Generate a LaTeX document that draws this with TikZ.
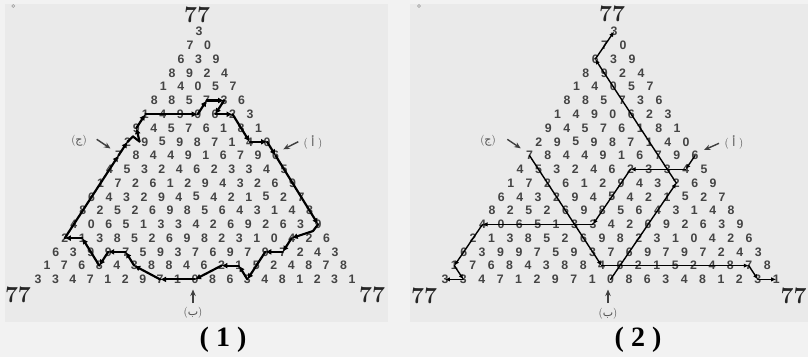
\documentclass[tikz,border=0pt]{standalone}
\usepackage{fontspec}
\newfontfamily\digfont{Liberation Sans}
\newfontfamily\capfont{Liberation Serif}
\newfontfamily\arabicfont[Script=Arabic]{DejaVu Sans}
\TeXXeTstate=1
\usetikzlibrary{arrows.meta}
\definecolor{outerbg}{HTML}{F2F2F2}
\definecolor{panelbg}{HTML}{EAEAEA}
\definecolor{digcol}{HTML}{444444}
\tikzset{
  dig/.style={font=\digfont\bfseries\fontsize{12.3}{12.3}\selectfont, text=digcol, inner sep=0pt, anchor=center},
  corner/.style={font=\bfseries\fontsize{23}{23}\selectfont, text=black!85, inner sep=0pt},
  capt/.style={font=\capfont\bfseries\fontsize{28}{28}\selectfont, inner sep=0pt},
  lbl/.style={font=\fontsize{11}{11}\selectfont, text=black!70, inner sep=0pt},
  lblarrow/.style={-{Stealth[length=6.5pt,width=5.5pt]}, line width=1.4pt, draw=black!75},
  pathA/.style={line width=2.2pt, line cap=round, line join=round, -{Latex[length=6pt,width=6pt]}},
  pathAplain/.style={line width=2.2pt, line cap=round, line join=round},
  pathB/.style={line width=1.4pt, line cap=round, line join=round, -{Latex[length=5pt,width=4.5pt]}},
}
\newcommand\pseg[3][pathA]{\draw[#1] (#2.center) -- (#3.center);}
\begin{document}
\begin{tikzpicture}[x=1pt,y=-1pt]
\useasboundingbox (0,0) rectangle (808,357);
\fill[outerbg] (0,0) rectangle (808,357);
\fill[panelbg] (5,4) rectangle (388,322);
\fill[panelbg] (410,4) rectangle (808,322);
\draw[black!40, line width=0.5pt] (13.3,6) circle (1.5);
\draw[black!40, line width=0.5pt] (419,6) circle (1.5);

\foreach \row [count=\r] in {{3},{7,0},{6,3,9},{8,9,2,4},{1,4,0,5,7},{8,8,5,7,3,6},{1,4,9,0,6,2,3},{9,4,5,7,6,1,8,1},{2,9,5,9,8,7,1,4,0},{7,8,4,4,9,1,6,7,9,6},{4,5,3,2,4,6,2,3,3,4,5},{1,7,2,6,1,2,9,4,3,2,6,9},{6,4,3,2,9,4,5,4,2,1,5,2,7},{8,2,5,2,6,9,8,5,6,4,3,1,4,8},{4,0,6,5,1,3,3,4,2,6,9,2,6,3,9},{2,1,3,8,5,2,6,9,8,2,3,1,0,4,2,6},{6,3,9,9,7,5,9,3,7,6,9,7,9,7,2,4,3},{1,7,6,8,4,3,8,8,4,6,2,1,5,2,4,8,7,8},{3,3,4,7,1,2,9,7,1,0,8,6,3,4,8,1,2,3,1}} {
  \foreach \d [count=\k] in \row {
    \node[dig] (L-\r-\k) at ({199-(\r-1)*0.22+(\k-(\r+1)/2)*17.45}, {31.7+(\r-1)*13.76}) {\d};
    \node[dig] (R-\r-\k) at ({614-(\r-1)*0.19+(\k-(\r+1)/2)*18.4}, {31.7+(\r-1)*13.76}) {\d};
  }
}

% corner numbers
\node[corner] (t1) at (197,15) {77};
\node[corner] (bl1) at (18,295) {77};
\node[corner] (br1) at (372,295) {77};
\node[corner] (t2) at (612,14) {77};
\node[corner] (bl2) at (424,296) {77};
\node[corner] (br2) at (793.5,296) {77};

% captions
\node[capt] (cap1) at (223,340) {( 1 )};
\node[capt] (cap2) at (638,340) {( 2 )};

% labels panel 1
\node[lbl] (lc1) at (79,141) {({\arabicfont\beginR ج\endR})};
\node[lbl] (la1) at (313,142) {( {\arabicfont\beginR أ\endR} )};
\node[lbl] (lb1) at (193,313) {({\arabicfont\beginR ب\endR})};
\coordinate (lc1t) at (96.7,139.3); \coordinate (lc1h) at (110.5,148.5);
\coordinate (la1t) at (298.3,141.7); \coordinate (la1h) at (283.3,149.3);
\coordinate (lb1t) at (193,303); \coordinate (lb1h) at (193,289.5);
\draw[lblarrow] (lc1t) -- (lc1h);
\draw[lblarrow] (la1t) -- (la1h);
\draw[lblarrow] (lb1t) -- (lb1h);

% labels panel 2
\node[lbl] (lc2) at (488,141) {({\arabicfont\beginR ج\endR})};
\node[lbl] (la2) at (734,142) {( {\arabicfont\beginR أ\endR} )};
\node[lbl] (lb2) at (608,314) {({\arabicfont\beginR ب\endR})};
\coordinate (lc2t) at (507.3,139.3); \coordinate (lc2h) at (520.7,148.3);
\coordinate (la2t) at (719,143.3); \coordinate (la2h) at (704,150);
\coordinate (lb2t) at (608,303); \coordinate (lb2h) at (608,289.5);
\draw[lblarrow] (lc2t) -- (lc2h);
\draw[lblarrow] (la2t) -- (la2h);
\draw[lblarrow] (lb2t) -- (lb2h);

% path panel 1
\coordinate (kinkA) at (313,231);
\coordinate (bumpA) at (133,136.5);
\coordinate (bumpB) at (139.5,141.5);
\pseg{L-10-10}{L-15-15}
\pseg[pathAplain]{L-15-15}{kinkA}
\pseg{kinkA}{L-16-14}
\pseg{L-16-14}{L-17-14}
\pseg{L-17-14}{L-17-13}
\pseg{L-17-13}{L-19-13}
\pseg{L-19-13}{L-18-12}
\pseg{L-18-12}{L-18-11}
\pseg{L-18-11}{L-19-10}
\pseg{L-19-10}{L-19-8}
\pseg{L-19-8}{L-18-6}
\pseg{L-18-6}{L-17-5}
\pseg{L-17-5}{L-17-4}
\pseg{L-17-4}{L-18-4}
\pseg{L-18-4}{L-16-2}
\pseg{L-16-2}{L-16-1}
\pseg{L-16-1}{L-10-1}
\pseg{L-10-1}{L-9-1}
\pseg[pathAplain]{L-9-1}{bumpA}
\pseg[pathAplain]{bumpA}{bumpB}
\pseg{bumpB}{L-8-1}
\pseg{L-8-1}{L-7-1}
\pseg{L-7-1}{L-7-4}
\pseg{L-7-4}{L-6-4}
\pseg{L-6-4}{L-6-5}
\pseg{L-6-5}{L-7-5}
\pseg{L-7-5}{L-7-6}
\pseg{L-7-6}{L-9-8}
\pseg{L-9-8}{L-9-9}
\pseg{L-9-9}{L-10-10}

% paths panel 2
\pseg[pathB]{R-19-10}{R-12-10}
\pseg[pathB]{R-12-10}{R-3-1}
\pseg[pathB]{R-3-1}{R-1-1}
\pseg[pathB]{R-10-10}{R-11-10}
\pseg[pathB]{R-11-10}{R-11-7}
\pseg[pathB]{R-11-7}{R-15-7}
\pseg[pathB]{R-15-7}{R-15-1}
\pseg[pathB]{R-15-1}{R-18-1}
\pseg[pathB]{R-18-1}{R-19-2}
\pseg[pathB]{R-19-2}{R-19-1}
\pseg[pathB]{R-10-1}{R-18-9}
\pseg[pathB]{R-18-9}{R-18-17}
\pseg[pathB]{R-18-17}{R-19-18}
\pseg[pathB]{R-19-18}{R-19-19}
\end{tikzpicture}
\end{document}
